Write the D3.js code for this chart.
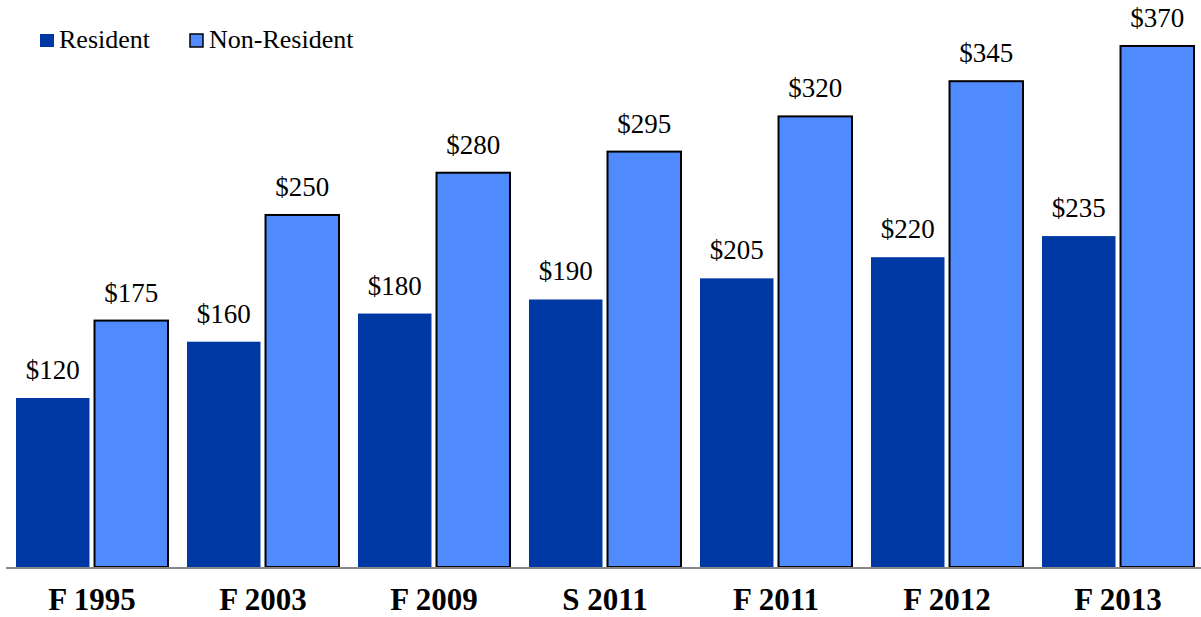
<!DOCTYPE html>
<html><head><meta charset="utf-8">
<script src="https://cdn.jsdelivr.net/npm/d3@7"></script>
<style>html,body{margin:0;padding:0;background:#fff;}svg{display:block;}
svg text{font-family:"Liberation Serif","Times New Roman",Times,"DejaVu Serif",serif;}</style>
</head><body>
<svg id="chart" width="1201" height="617"></svg>
<script>
const categories = ["F 1995","F 2003","F 2009","S 2011","F 2011","F 2012","F 2013"];
const seriesNames = ["Resident","Non-Resident"];
const resident = [120,160,180,190,205,220,235];
const nonResident = [175,250,280,295,320,345,370];

const colors = {"Resident":"#0038A3","Non-Resident":"#508AFF"};
const svg = d3.select("#chart");

const x0 = d3.scaleBand().domain(categories).range([6.5,1203.5]).paddingInner(0.111).paddingOuter(0.0555);
const x1 = d3.scaleBand().domain(seriesNames).range([0,x0.bandwidth()]).paddingInner(0.064);
const y = d3.scaleLinear().domain([0,370]).range([567,46]);

const data = categories.map((c,i)=>({cat:c, vals:[{s:"Resident",v:resident[i]},{s:"Non-Resident",v:nonResident[i]}]}));

const g = svg.selectAll("g.grp").data(data).join("g").attr("class","grp")
  .attr("transform",d=>`translate(${x0(d.cat)},0)`);

g.selectAll("rect").data(d=>d.vals).join("rect")
  .attr("x",d=>x1(d.s)).attr("width",x1.bandwidth())
  .attr("y",d=>y(d.v)).attr("height",d=>y(0)-y(d.v))
  .attr("fill",d=>colors[d.s])
  .attr("stroke",d=>d.s==="Non-Resident"?"#000":"none")
  .attr("stroke-width",2);

g.selectAll("text.val").data(d=>d.vals).join("text").attr("class","val")
  .attr("x",d=>x1(d.s)+x1.bandwidth()/2).attr("y",d=>y(d.v)-19)
  .attr("text-anchor","middle").attr("font-size",27)
  .attr("fill","#000").text(d=>"$"+d.v);

// baseline
svg.append("line").attr("x1",6).attr("x2",1201).attr("y1",y(0)+1).attr("y2",y(0)+1)
  .attr("stroke","#888").attr("stroke-width",2);

// category axis labels
const xAxis = d3.axisBottom(x0).tickSize(0).tickPadding(0);
const ax = svg.append("g").attr("transform",`translate(0,${y(0)})`).call(xAxis);
ax.select(".domain").remove();
ax.selectAll("text").attr("font-family",null).attr("font-size",31).attr("font-weight","bold")
  .attr("fill","#000").attr("dy",null).attr("y",43);

// legend
const legendItems = [{s:"Resident",x:40},{s:"Non-Resident",x:190}];
const lg = svg.selectAll("g.leg").data(legendItems).join("g").attr("class","leg");
lg.append("rect").attr("x",d=>d.x).attr("y",34).attr("width",d=>d.s==="Non-Resident"?13:14).attr("height",13)
  .attr("fill",d=>colors[d.s]).attr("stroke",d=>d.s==="Non-Resident"?"#000":"none").attr("stroke-width",1.5);
lg.append("text").attr("x",d=>d.x+19).attr("y",48).attr("font-size",26)
  .attr("fill","#000").text(d=>d.s);
</script>
</body></html>
